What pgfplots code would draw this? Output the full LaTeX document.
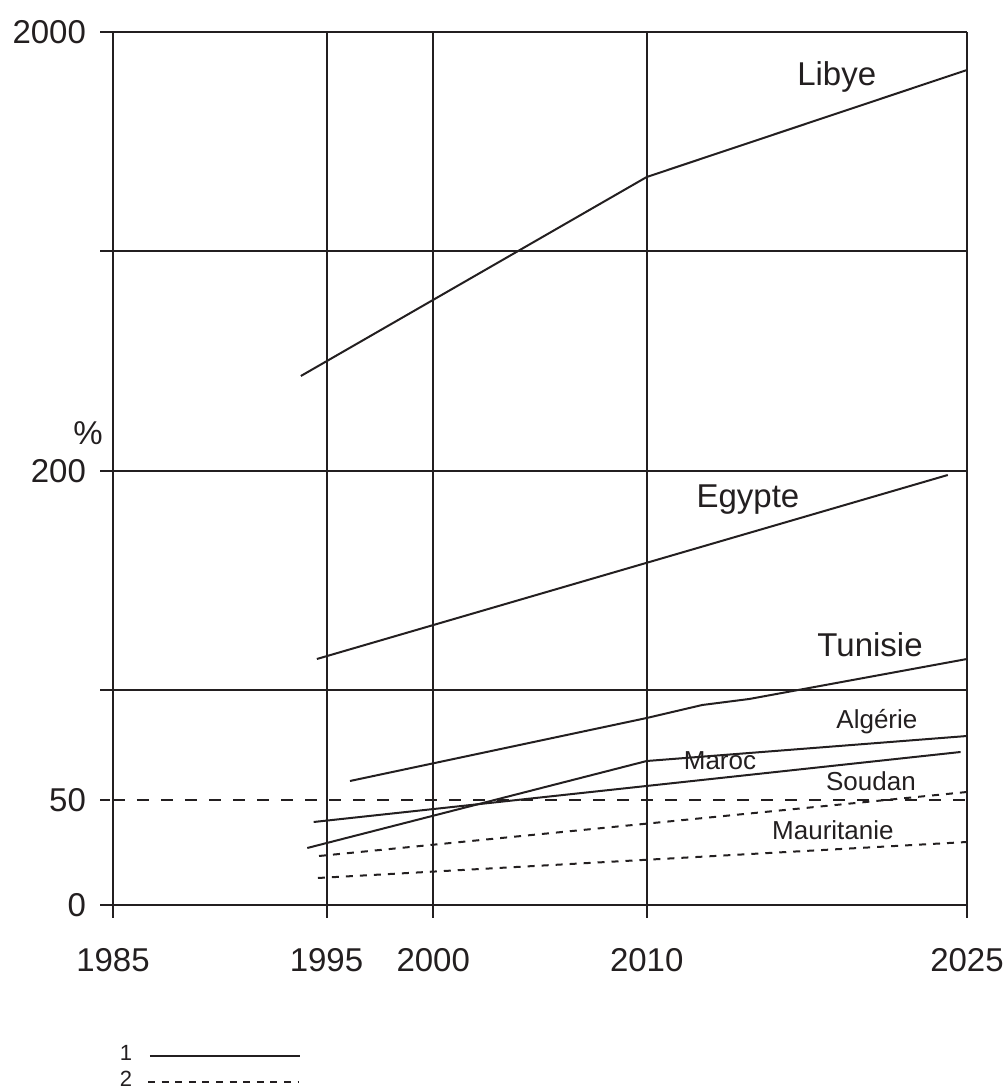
\documentclass[border=0pt]{standalone}
\usepackage{fontspec}
\setmainfont{Liberation Sans}
\usepackage{pgfplots}
\pgfplotsset{compat=1.18}
\definecolor{ink}{RGB}{35,31,32}
\begin{document}
\begin{tikzpicture}
\path[use as bounding box] (-56.5pt,-93pt) rectangle (445.5pt,452.5pt);
\begin{axis}[
  scale only axis,
  width=427pt, height=436.5pt,
  xmin=1985, xmax=2025, ymin=0, ymax=873,
  axis x line=bottom, axis y line=left,
  axis line style={ink, line width=1pt, -},
  xtick={1985,1995,2000,2010,2025},
  xticklabels={1985,1995,2000,2010,2025},
  ytick={0,215,434,654,873},
  yticklabels={0,,200,,2000},
  extra y ticks={105},
  extra y tick labels={50},
  extra y tick style={grid=major, major grid style={ink, line width=1pt, dash pattern=on 6pt off 6pt}, major tick style={ink, line width=1pt, dash pattern=on 5pt off 6pt}},
  grid=major,
  major grid style={ink, line width=1pt},
  tick align=outside,
  major tick length=6.5pt,
  tick style={ink, line width=1pt},
  ticklabel style={font=\fontsize{16.5}{18}\selectfont, text=ink},
  xticklabel style={yshift=-11.5pt},
  yticklabel style={xshift=-3.5pt},
  /pgf/number format/assume math mode=true,
  clip=false,
]
% Libye
\addplot[ink, line width=1pt] coordinates {(1993.8,529) (2010,728) (2025,835)};
% Egypte
\addplot[ink, line width=1pt] coordinates {(1994.55,246) (2024.1,430)};
% Tunisie
\addplot[ink, line width=1pt] coordinates {(1996.1,124) (2010,187) (2012.6,200) (2014.8,206) (2025,246)};
% Algerie / Maroc
\addplot[ink, line width=1pt] coordinates {(1994.1,57) (2010,144) (2025,169)};
\addplot[ink, line width=1pt] coordinates {(1994.4,83) (2024.7,153)};
% Soudan
\addplot[ink, line width=1pt, dash pattern=on 3.5pt off 3.5pt] coordinates {(1994.65,49) (2025,113)};
% Mauritanie
\addplot[ink, line width=1pt, dash pattern=on 3.5pt off 3.5pt] coordinates {(1994.6,27) (2025,63)};
% legend keys
\addplot[ink, line width=1pt] coordinates {(1986.73,-151) (1993.76,-151)};
\addplot[ink, line width=1pt, dash pattern=on 3.5pt off 3.3pt] coordinates {(1986.64,-176.7) (1993.67,-176.7)};
\node[font=\fontsize{11}{12}\selectfont, text=ink] at (axis cs:1985.61,-148) {1};
\node[font=\fontsize{11}{12}\selectfont, text=ink] at (axis cs:1985.61,-173.7) {2};
\node[font=\fontsize{16.5}{18}\selectfont, text=ink] at (axis cs:2018.9,828) {Libye};
\node[font=\fontsize{16.5}{18}\selectfont, text=ink] at (axis cs:2014.74,405) {Egypte};
\node[font=\fontsize{16.5}{18}\selectfont, text=ink] at (axis cs:2020.46,260) {Tunisie};
\node[font=\fontsize{13}{14}\selectfont, text=ink] at (axis cs:2020.78,183) {Algérie};
\node[font=\fontsize{13}{14}\selectfont, text=ink] at (axis cs:2013.43,144) {Maroc};
\node[font=\fontsize{13}{14}\selectfont, text=ink] at (axis cs:2020.5,124) {Soudan};
\node[font=\fontsize{13}{14}\selectfont, text=ink] at (axis cs:2018.72,75) {Mauritanie};
\node[font=\fontsize{16.5}{18}\selectfont, text=ink] at (axis cs:1983.83,471.5) {\%};
\end{axis}
\end{tikzpicture}
\end{document}
